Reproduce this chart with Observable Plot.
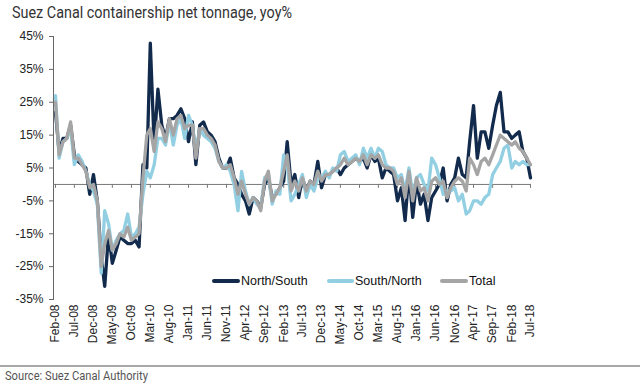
<!DOCTYPE html>
<html><head><meta charset="utf-8">
<script src="https://cdn.jsdelivr.net/npm/d3@7"></script>
<script src="https://cdn.jsdelivr.net/npm/@observablehq/plot@0.6"></script>
<style>
html,body{margin:0;padding:0;background:#fff;}
#wrap{position:relative;width:640px;height:387px;overflow:hidden;}
#title{position:absolute;left:12px;top:3px;font:16px Roboto,sans-serif;color:#333;white-space:nowrap;transform-origin:0 0;}
#chart{position:absolute;left:0;top:0;}
#legend{position:absolute;top:274px;left:0;font:12.5px "Liberation Sans",Arial,sans-serif;color:#111;}
#legend .it{position:absolute;white-space:nowrap;display:flex;align-items:center;}
#legend .sw{display:inline-block;height:4px;border-radius:2px;margin-right:1px;}
#sep{position:absolute;left:0;top:365px;width:640px;height:2px;background:#a8a8a8;}
#source{position:absolute;left:5px;top:369px;font:12px Roboto,sans-serif;color:#555;transform-origin:0 0;white-space:nowrap;}
</style></head>
<body><div id="wrap">
<div id="chart"></div>
<div id="title">Suez Canal containership net tonnage, yoy%</div>
<div id="legend"></div>
<div id="sep"></div>
<div id="source">Source: Suez Canal Authority</div>
</div>
<script>
const startMonth = new Date(Date.UTC(2008, 1, 1)); // Feb-08
const seriesNames = ["North/South", "South/North", "Total"];
const seriesColors = ["#122a4c", "#92cfe2", "#a5a5a5"];
const northSouth = [22,10,14,14,18,9,7,6,5,-3,
3,-5,-22,-31,-15,-24,-20,-16,-17,-18,
-18,-17,-19,6,5,43,12,29,18,14,
20,20,21,23,20,13,19,6,18,19,
16,15,13,8,5,5,8,2,0,-3,
-5,-9,-4,-5,-7,0,2,-4,-3,-1,
1,13,0,3,-4,2,-2,1,0,7,
-1,3,3,4,5,3,5,6,7,8,
7,8,5,9,7,8,2,5,4,3,
-5,-1,-11,4,-10,1,-6,-3,-11,-4,
-2,0,5,-5,0,2,8,3,2,13,
24,8,16,16,11,18,24,28,16,16,
14,15,16,10,8,2];
const southNorth = [27,8,13,14,17,6,9,7,4,0,
-2,-6,-27,-8,-12,-20,-17,-15,-14,-9,
-16,-15,-13,-3,4,2,6,14,14,12,
19,12,18,20,14,21,18,10,17,15,
14,13,11,7,5,6,4,0,-8,4,
-2,-6,-4,-6,-7,2,3,-6,-2,-3,
9,6,-5,-3,0,3,-4,0,-2,2,
2,4,2,5,4,9,10,7,8,9,
6,11,8,11,8,11,10,6,5,5,
2,3,-2,5,-3,2,3,0,-2,8,
6,2,-3,-2,-2,-1,-5,-3,-9,-8,
-5,-5,-6,-4,-3,3,5,7,11,12,
5,7,6,7,6,6];
const total = [25,9,13,14,19,8,8,6,4,-1,
0,-5,-25,-18,-14,-20,-18,-15,-16,-13,
-17,-16,-15,2,15,17,10,19,17,13,
20,15,20,21,17,18,18,8,17,17,
15,14,12,7,5,5,6,2,-3,1,
-3,-6,-4,-5,-8,1,4,-5,-3,-1,
4,9,-2,1,-2,2,-2,1,0,4,
1,3,3,4,5,6,8,6,7,8,
7,9,6,9,8,9,6,5,5,4,
0,2,-4,4,-5,2,-2,-1,-5,1,
2,0,1,-4,-1,1,2,1,-2,8,
6,3,7,8,6,9,12,15,14,13,
12,13,11,10,8,6];
const yTicks = [-35,-25,-15,-5,5,15,25,35,45];
const xTickLabels = ["Feb-08","Jul-08","Dec-08","May-09","Oct-09","Mar-10","Aug-10","Jan-11","Jun-11","Nov-11","Apr-12","Sep-12","Feb-13","Jul-13","Dec-13","May-14","Oct-14","Mar-15","Aug-15","Jan-16","Jun-16","Nov-16","Apr-17","Sep-17","Feb-18","Jul-18"];

const monthOf = i => d3.utcMonth.offset(startMonth, i);
const parseLabel = d3.utcParse("%b-%y");
const xTicks = xTickLabels.map(parseLabel);
const fmt = d3.utcFormat("%b-%y");

const rows = [];
[northSouth, southNorth, total].forEach((arr, k) => {
  arr.forEach((v, i) => rows.push({date: monthOf(i), value: v, series: seriesNames[k]}));
});

const chart = Plot.plot({
  width: 640, height: 387,
  marginLeft: 53, marginRight: 110, marginTop: 36, marginBottom: 88,
  insetLeft: 2,
  style: {fontFamily: "'Liberation Sans', Arial, sans-serif", fontSize: "12px", color: "#222", background: "transparent"},
  x: {type: "utc", domain: [startMonth, monthOf(northSouth.length - 1)]},
  y: {domain: [-35, 45]},
  color: {domain: seriesNames, range: seriesColors},
  marks: [
    Plot.frame({anchor: "left", stroke: "#666", strokeWidth: 1}),
    Plot.axisY({ticks: yTicks, tickFormat: d => d + "%", tickSize: 4, tickPadding: 6, label: null, stroke: "#666", fill: "#222"}),
    Plot.ruleY([0], {stroke: "#777", strokeWidth: 1}),
    Plot.ruleX(xTicks, {x: d => d, y1: 0, y2: -1.2, stroke: "#777"}),
    Plot.axisX({ticks: xTicks, tickFormat: fmt, tickSize: 0, tickPadding: 5, tickRotate: -90, label: null, fill: "#222"}),
    Plot.lineY(rows, {x: "date", y: "value", z: "series", stroke: "series", strokeWidth: 3.3, strokeLinejoin: "round"})
  ]
});
document.getElementById("chart").appendChild(chart);

// legend
const legend = document.getElementById("legend");
const legendPos = [{x: 212, w: 28}, {x: 327, w: 27}, {x: 440, w: 28}];
seriesNames.forEach((n, k) => {
  const it = document.createElement("div");
  it.className = "it";
  it.style.left = legendPos[k].x + "px";
  it.innerHTML = `<span class="sw" style="width:${legendPos[k].w}px;background:${seriesColors[k]}"></span><span>${n}</span>`;
  legend.appendChild(it);
});
// fit title/source widths
function fit(id, w){ const el = document.getElementById(id); const r = el.getBoundingClientRect().width; el.style.transform = `scaleX(${w / r})`; }
fit("title", 280);
fit("source", 143);
</script>
</body></html>
